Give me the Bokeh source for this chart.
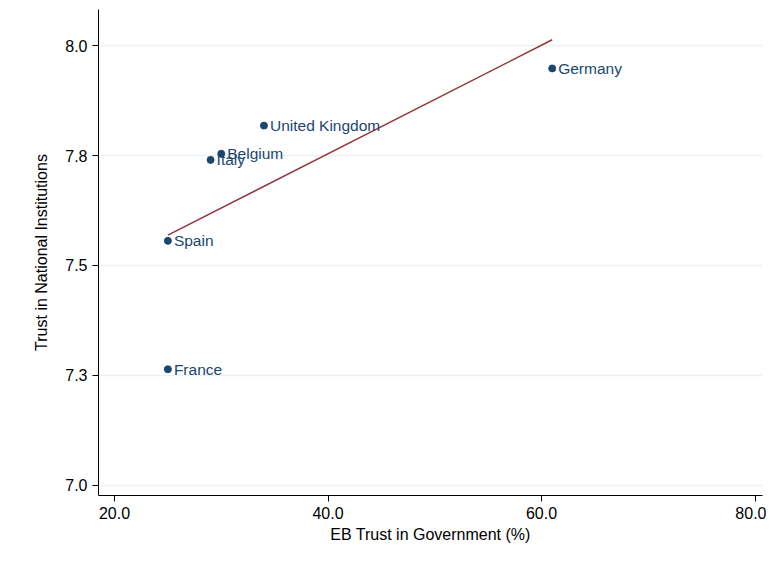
import numpy as np
from bokeh.plotting import figure, ColumnDataSource
from bokeh.models import Range1d, FixedTicker, CustomJSTickFormatter
from bokeh.core.properties import value
from bokeh.embed import file_html
from bokeh.resources import INLINE

countries = ["Germany", "United Kingdom", "Belgium", "Italy", "Spain", "France"]
eb_trust = [61, 34, 30, 29, 25, 25]
inst_trust = [7.948, 7.818, 7.754, 7.740, 7.556, 7.264]

FONT = "Liberation Sans"
NAVY = "#1a476f"

p = figure(width=766, height=551, output_backend="svg", toolbar_location=None,
           x_range=Range1d(18.5, 80.7), y_range=Range1d(6.977, 8.082),
           x_axis_label="EB Trust in Government (%)",
           y_axis_label="Trust in National Institutions",
           min_border_left=98, min_border_right=4, min_border_top=9,
           min_border_bottom=56)
p.outline_line_color = None
p.background_fill_color = "white"
p.border_fill_color = "white"
p.xgrid.visible = False
p.ygrid.grid_line_color = "#eaf2f3"
p.ygrid.grid_line_width = 1.5

p.xaxis.ticker = FixedTicker(ticks=[20, 40, 60, 80])
p.xaxis.formatter = CustomJSTickFormatter(code="return tick.toFixed(1);")
p.yaxis.ticker = FixedTicker(ticks=[7.0, 7.25, 7.5, 7.75, 8.0])
p.yaxis.formatter = CustomJSTickFormatter(code="return (Math.round(tick*10+1e-6)/10).toFixed(1);")
p.yaxis.major_label_orientation = "horizontal"
for ax in (p.xaxis, p.yaxis):
    ax.axis_label_text_font = FONT
    ax.axis_label_text_font_style = "normal"
    ax.axis_label_text_font_size = "16px"
    ax.axis_label_text_color = "black"
    ax.major_label_text_font = FONT
    ax.major_label_text_font_size = "16px"
    ax.major_label_text_color = "black"
    ax.axis_line_color = "black"
    ax.major_tick_line_color = "black"
    ax.major_tick_out = 6
    ax.major_tick_in = 0
    ax.minor_tick_line_color = None
p.xaxis.axis_label_standoff = 4
p.yaxis.axis_label_standoff = 12

src = ColumnDataSource(data=dict(x=eb_trust, y=inst_trust, name=countries))

# linear fit
b, a = np.polyfit(eb_trust, inst_trust, 1)
fx = [min(eb_trust), max(eb_trust)]
p.line(fx, [a + b * v for v in fx], line_color="#90353b", line_width=1.5)

p.scatter("x", "y", source=src, size=7, color=NAVY)
p.text("x", "y", text="name", source=src, x_offset=6, text_baseline="middle",
       text_font=value(FONT), text_font_size="15.5px", text_color=NAVY)

open("out.html", "w").write(file_html(p, INLINE))
